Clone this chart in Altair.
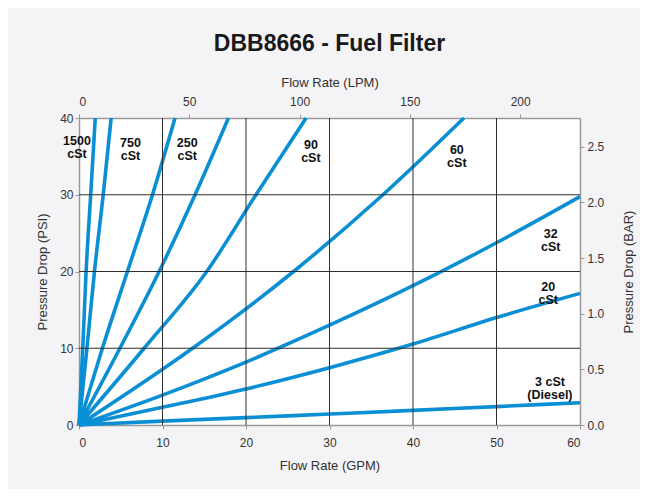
import altair as alt
import pandas as pd

# ---- data ----
psi_levels = [0, 10, 20, 30, 40]          # pressure drop (PSI) for steep curves
gpm_1500 = [0, 0.45, 0.85, 1.4, 1.95]
gpm_750 = [0, 0.95, 1.85, 2.9, 3.85]
gpm_250 = [0, 2.8, 5.8, 8.8, 11.5]
gpm_unlab = [0, 4.9, 9.6, 13.9, 17.9]
gpm_90 = [0, 7.8, 15.3, 21.2, 27.2]
gpm_60 = [0, 13.6, 25.7, 36.4, 46.1]

gpm_levels = [0, 10, 20, 30, 40, 50, 60]  # flow rate (GPM) for flat curves
psi_32 = [0, 3.9, 8.2, 13.0, 18.15, 23.75, 29.75]
psi_20 = [0, 2.3, 4.7, 7.47, 10.55, 14.0, 17.15]
psi_3 = [0, 0.5, 0.96, 1.43, 1.9, 2.4, 2.9]

label_text = ["1500\ncSt", "750\ncSt", "250\ncSt", "90\ncSt", "60\ncSt",
              "32\ncSt", "20\ncSt", "3 cSt\n(Diesel)"]
label_gpm = [-0.24, 6.17, 12.96, 27.77, 45.25, 56.5, 56.2, 56.4]
label_psi = [36.94, 36.8, 36.8, 36.5, 35.77, 24.9, 18.0, 5.64]

GPM_TO_LPM = 3.78541
PSI_TO_BAR = 0.0689476
gpm_ticks = [0, 10, 20, 30, 40, 50, 60]
psi_ticks = [0, 10, 20, 30, 40]
lpm_ticks = [0, 50, 100, 150, 200]
bar_ticks = [0.0, 0.5, 1.0, 1.5, 2.0, 2.5]
grid_gpm = [10, 20, 30, 40, 50]
grid_psi = [10, 20, 30]

# ---- build tables ----
rows = []
for name, gpms in [("1500 cSt", gpm_1500), ("750 cSt", gpm_750), ("250 cSt", gpm_250),
                   ("unlabelled", gpm_unlab), ("90 cSt", gpm_90), ("60 cSt", gpm_60)]:
    for i, (g, p) in enumerate(zip(gpms, psi_levels)):
        rows.append({"series": name, "gpm": g, "psi": p, "i": i})
for name, psis in [("32 cSt", psi_32), ("20 cSt", psi_20), ("3 cSt (Diesel)", psi_3)]:
    for i, (g, p) in enumerate(zip(gpm_levels, psis)):
        rows.append({"series": name, "gpm": g, "psi": p, "i": i})
curves = pd.DataFrame(rows)
labels = pd.DataFrame({"text": label_text, "gpm": label_gpm, "psi": label_psi})
vgrid = pd.DataFrame({"gpm": grid_gpm})
hgrid = pd.DataFrame({"psi": grid_psi})
sec = pd.DataFrame({"lpm": [0, 60 * GPM_TO_LPM], "bar": [0, 40 * PSI_TO_BAR]})

FONT = "Liberation Sans"
BLUE = "#0a8fd5"
GRID = "#2e2e2e"

x_main = alt.X("gpm:Q", scale=alt.Scale(domain=[0, 60], nice=False),
               axis=alt.Axis(title="Flow Rate (GPM)", values=gpm_ticks, orient="bottom",
                             grid=False, labelPadding=8, titlePadding=11))
y_main = alt.Y("psi:Q", scale=alt.Scale(domain=[0, 40], nice=False),
               axis=alt.Axis(title="Pressure Drop (PSI)", values=psi_ticks, orient="left",
                             grid=False, labelPadding=2, titlePadding=10))

vrules = alt.Chart(vgrid).mark_rule(color=GRID, strokeWidth=1).encode(x=alt.X("gpm:Q"))
hrules = alt.Chart(hgrid).mark_rule(color=GRID, strokeWidth=1).encode(y=alt.Y("psi:Q"))

lines = alt.Chart(curves).mark_line(
    color=BLUE, strokeWidth=3.6, interpolate="monotone"
).encode(x=x_main, y=y_main, detail="series:N", order="i:Q")

texts = alt.Chart(labels).mark_text(
    font=FONT, fontSize=12.5, fontWeight="bold", color="#111",
    align="center", baseline="middle", lineBreak="\n", lineHeight=13
).encode(x=alt.X("gpm:Q"), y=alt.Y("psi:Q"), text="text:N")

main = alt.layer(lines, vrules, hrules, texts)

secondary = alt.Chart(sec).mark_point(opacity=0).encode(
    x=alt.X("lpm:Q", scale=alt.Scale(domain=[0, 60 * GPM_TO_LPM], nice=False),
            axis=alt.Axis(title="Flow Rate (LPM)", values=lpm_ticks, orient="top",
                          grid=False, labelPadding=6, titlePadding=6)),
    y=alt.Y("bar:Q", scale=alt.Scale(domain=[0, 40 * PSI_TO_BAR], nice=False),
            axis=alt.Axis(title="Pressure Drop (BAR)", values=bar_ticks, orient="right",
                          format=".1f", grid=False, labelPadding=3, titlePadding=19,
                          titleAngle=270, titleBaseline="top")),
)

chart = alt.layer(main, secondary).resolve_scale(
    x="independent", y="independent"
).properties(
    width=501, height=307,
    title=alt.TitleParams("DBB8666 - Fuel Filter", font=FONT, fontSize=23,
                          fontWeight="bold", color="#1a1a1a", anchor="middle", offset=20),
    autosize=alt.AutoSizeParams(type="none"),
    padding={"left": 71, "top": 110, "right": 60, "bottom": 64},
    background="#f4f4f6",
).configure_view(
    fill="white", stroke=None
).configure_axis(
    labelFont=FONT, labelFontSize=12, labelColor="#333",
    titleFont=FONT, titleFontSize=13, titleFontWeight="normal", titleColor="#333",
    domainColor="#9a9a9a", domainWidth=1.5, tickColor="#9a9a9a", tickSize=4,
)

chart.save("out.html", embed_options={"renderer": "svg", "actions": False})
